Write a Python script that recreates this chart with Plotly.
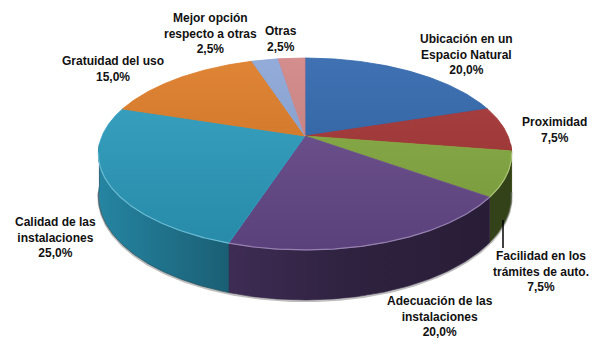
import numpy as np
import plotly.graph_objects as go

# Survey reasons and their shares (%)
categories = [
    "Ubicación en un\nEspacio Natural",
    "Proximidad",
    "Facilidad en los\ntrámites de auto.",
    "Adecuación de las\ninstalaciones",
    "Calidad de las\ninstalaciones",
    "Gratuidad del uso",
    "Mejor opción\nrespecto a otras",
    "Otras",
]
values = [20.0, 7.5, 7.5, 20.0, 25.0, 15.0, 2.5, 2.5]
colors = ["#2F66AC", "#A53434", "#84AA40", "#674A8C",
          "#2B9DBF", "#DD7A25", "#8AA5D6", "#D08484"]

# Label anchor positions (pixel space) for each slice label
label_xy = [(466, 54), (554, 130), (541, 271), (440, 316),
            (55, 237), (113, 69), (210, 33), (281, 39)]

# 3D pie projection parameters (pixel space, y grows downward)
CX, CY = 305.0, 136.0
RX, RY = 203.0, 92.6
PERSP = 0.1875
DEPTH = 40.6
W, H = 601, 341


def project(phi_deg, drop=0.0):
    phi = np.radians(phi_deg)
    u, v = np.sin(phi), np.cos(phi)
    s = 1.0 / (1.0 + PERSP * v)
    return CX + RX * u * s, CY - RY * v * s + drop * s


def rgb(hexc):
    hexc = hexc.lstrip("#")
    return [int(hexc[i:i + 2], 16) for i in (0, 2, 4)]


def shade(hexc, f):
    r, g, b = [min(255, max(0, int(round(c * f)))) for c in rgb(hexc)]
    return f"rgb({r},{g},{b})"


def lighten(hexc, f):
    r, g, b = [int(round(c + (255 - c) * f)) for c in rgb(hexc)]
    return f"rgb({r},{g},{b})"


def arc(a, b, drop=0.0):
    n = max(2, int(abs(b - a) / 0.5) + 1)
    ph = np.linspace(a, b, n)
    return project(ph, drop)


total = sum(values)
bounds = np.concatenate([[0.0], np.cumsum(values) / total * 360.0])

fig = go.Figure()

# Outer walls visible from the front
WALL_FROM, WALL_TO = 95.0, 265.0
for i, c in enumerate(colors):
    a, b = bounds[i], bounds[i + 1]
    lo, hi = max(a, WALL_FROM), min(b, WALL_TO)
    if hi <= lo:
        continue
    xt, yt = arc(lo, hi)
    xb, yb = arc(hi, lo, DEPTH)
    xs = np.concatenate([xt, xb, xt[:1]])
    ys = np.concatenate([yt, yb, yt[:1]])
    fig.add_trace(go.Scatter(
        x=xs, y=ys, mode="lines", fill="toself",
        line=dict(width=0.8, color=shade(c, 0.5)),
        fillgradient=dict(
            type="horizontal", start=98, stop=513,
            colorscale=[[0, shade(c, 0.85)], [0.32, shade(c, 0.6)],
                        [0.6, shade(c, 0.46)], [1, shade(c, 0.38)]],
        ),
        hoverinfo="skip", showlegend=False,
    ))

# Soft edge under the front of the pie
xb, yb = arc(WALL_FROM + 3, WALL_TO - 3, DEPTH + 1)
fig.add_trace(go.Scatter(x=xb, y=yb, mode="lines",
                         line=dict(width=2, color="rgba(110,110,110,0.45)"),
                         hoverinfo="skip", showlegend=False))

# Top faces of the slices
for i, c in enumerate(colors):
    a, b = bounds[i], bounds[i + 1]
    xa, ya = arc(a, b)
    xs = np.concatenate([[CX], xa, [CX]])
    ys = np.concatenate([[CY], ya, [CY]])
    fig.add_trace(go.Scatter(
        x=xs, y=ys, mode="lines", fill="toself",
        line=dict(width=0.8, color=c),
        fillgradient=dict(
            type="vertical", start=58, stop=250,
            colorscale=[[0, lighten(c, 0.08)], [1, shade(c, 0.88)]],
        ),
        hoverinfo="skip", showlegend=False,
    ))

# Light rim along the front edge of the top faces
for i, c in enumerate(colors):
    a, b = bounds[i], bounds[i + 1]
    lo, hi = max(a, WALL_FROM + 5), min(b, WALL_TO - 5)
    if hi <= lo:
        continue
    xr, yr = arc(lo, hi)
    fig.add_trace(go.Scatter(x=xr, y=yr, mode="lines",
                             line=dict(width=1.2, color=lighten(c, 0.3)),
                             hoverinfo="skip", showlegend=False))

# Data labels
for name, val, (lx, ly) in zip(categories, values, label_xy):
    pct = f"{val / total * 100:.1f}".replace(".", ",") + "%"
    text = name.replace("\n", "<br>") + "<br>" + pct
    fig.add_annotation(
        x=lx, y=ly, xref="x", yref="y", text=text, showarrow=False,
        xanchor="center", yanchor="middle", align="center",
        font=dict(family="Liberation Sans, Arial, sans-serif", size=12,
                  color="#111111", weight="bold"),
    )

# Leader line for the small green slice
fig.add_shape(type="line", xref="x", yref="y", x0=503, x1=503, y0=220, y1=248,
              line=dict(color="#000000", width=1.5))

fig.update_layout(
    width=W, height=H,
    margin=dict(l=0, r=0, t=0, b=0),
    paper_bgcolor="white", plot_bgcolor="white",
    xaxis=dict(range=[0, W], visible=False, fixedrange=True),
    yaxis=dict(range=[H, 0], visible=False, fixedrange=True),
    showlegend=False, hovermode=False,
)

fig.write_html("out.html")
